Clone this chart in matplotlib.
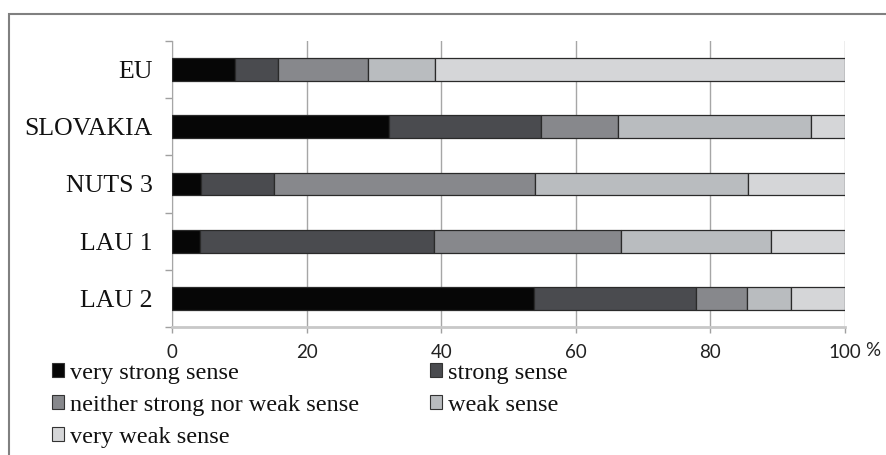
"""Stacked horizontal bars: sense of belonging by territorial level."""

import matplotlib.pyplot as plt
from matplotlib.font_manager import FontProperties
from matplotlib.patches import Patch, Rectangle

regions = ['EU', 'SLOVAKIA', 'NUTS 3', 'LAU 1', 'LAU 2']
categories = ['very strong sense', 'strong sense', 'neither strong nor weak sense',
              'weak sense', 'very weak sense']

very_strong = [9.4, 32.2, 4.3, 4.1, 53.8]
strong = [6.4, 22.6, 10.9, 34.8, 24.0]
neither = [13.3, 11.5, 38.8, 27.8, 7.7]
weak = [10.0, 28.7, 31.6, 22.3, 6.5]
very_weak = [60.9, 5.0, 14.4, 11.0, 8.0]

series = [very_strong, strong, neither, weak, very_weak]
colors = ['#060606', '#4a4b4f', '#87888c', '#b9bcbf', '#d5d6d8']

serif = ['Liberation Serif', 'DejaVu Serif']
sans = ['Lato', 'DejaVu Sans']

W, H = 887, 455
fig = plt.figure(figsize=(W / 100, H / 100), dpi=100)
ax = fig.add_axes([172 / W, 1 - 327 / H, 673 / W, 286 / H])

ypos = list(range(len(regions)))
left = [0] * len(regions)
handles = []
for vals, col, name in zip(series, colors, categories):
    ax.barh(ypos, vals, left=left, height=0.40, color=col,
            edgecolor='#2a2a2a', linewidth=0.9, zorder=3)
    left = [a + b for a, b in zip(left, vals)]
    handles.append(Patch(facecolor=col, edgecolor='#333333', linewidth=0.8, label=name))

ax.set_xlim(0, 100)
ax.set_ylim(len(regions) - 0.5, -0.5)
ax.set_xticks([0, 20, 40, 60, 80, 100])
ax.set_xticklabels(['0', '20', '40', '60', '80', '100'],
                   fontsize=13.5, family=sans, color='#222222')
fig.text(865 / W, 1 - 350 / H, '%', ha='left', va='center',
         fontsize=13.5, family=sans, color='#222222')
ax.set_yticks(ypos)
ax.set_yticklabels(regions, fontsize=18.5, family=serif, color='#111111')
ax.set_yticks([y - 0.5 for y in range(len(regions) + 1)], minor=True)

ax.tick_params(axis='y', which='major', length=0, pad=14)
ax.tick_params(axis='y', which='minor', length=5, direction='out', color='#a0a0a0', width=1)
ax.tick_params(axis='x', length=4, direction='out', color='#a0a0a0', width=1, pad=8)

ax.grid(axis='x', color='#a6a6a6', linewidth=1, zorder=0)
ax.set_axisbelow(True)
for s in ['top', 'right']:
    ax.spines[s].set_visible(False)
ax.spines['left'].set_color('#a6a6a6')
ax.spines['bottom'].set_color('#c8c8c8')
ax.spines['bottom'].set_linewidth(2)

order = [0, 2, 4, 1, 3]
leg = fig.legend([handles[i] for i in order], [categories[i] for i in order],
                 loc='upper left', bbox_to_anchor=(52 / W, 1 - 363 / H), ncol=2,
                 frameon=False, prop=FontProperties(family=serif, size=17.5),
                 handlelength=0.5, handleheight=0.5, handletextpad=0.25,
                 columnspacing=2.9, labelspacing=0.45, borderaxespad=0, borderpad=0)
for t in leg.get_texts():
    t.set_fontfamily(serif)
    t.set_color('#111111')

fig.add_artist(Rectangle((9 / W, -0.05), 1.0, 1 - 14 / H + 0.05,
                         transform=fig.transFigure, fill=False,
                         edgecolor='#808080', linewidth=1.5))

fig.savefig('out.png', dpi=100)
